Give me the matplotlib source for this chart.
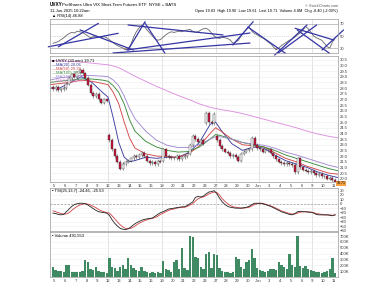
import numpy as np
import matplotlib.pyplot as plt

plt.rcParams['font.family'] = ['Liberation Sans', 'DejaVu Sans']

# trading days shown on the x axis (May 5 .. Jun 11)
day_labels = ['5', '6', '7', '8', '9', '12', '13', '14', '15', '16', '19', '20', '21',
              '22', '23', '27', '28', '29', '30', 'Jun', '3', '4', '5', '6', '9', '10', '11']
week_starts = [5, 10, 15, 19, 24]

# one bar of May 2, four bars a day, one bar of Jun 11
closes = [27.9,
          28.1, 27.8, 27.9, 28.0,  28.4, 28.9, 29.2, 29.0,  29.4, 29.6, 29.3, 28.9,
          28.3, 27.6, 27.3, 27.5,  27.0, 26.7, 27.0, 26.9,  23.4, 22.6, 22.0, 21.5,
          20.9, 21.3, 21.5, 21.6,  21.8, 22.0, 21.9, 22.1,  22.3, 22.0, 21.6, 21.4,
          21.5, 21.3, 21.6, 21.5,  22.6, 22.0, 21.9, 21.8,  21.8, 22.0, 21.7, 21.9,
          22.0, 22.2, 23.0, 23.8,  23.5, 23.2, 23.4, 23.1,  25.8, 25.0, 24.9, 25.7,
          23.4, 22.9, 22.6, 22.4,  22.3, 22.0, 22.1, 21.9,  21.6, 22.2, 22.4, 22.5,
          22.6, 23.6, 23.0, 22.7,  22.6, 22.4, 22.5, 22.6,  22.3, 22.0, 21.7, 21.5,
          21.4, 21.3, 21.4, 21.3,  21.2, 20.6, 21.8, 21.0,  20.8, 20.7, 20.6, 20.7,
          20.5, 20.3, 20.4, 20.2,  20.2, 20.0, 20.1, 19.9,
          19.71]
opens = [28.1,
         27.9, 28.1, 27.8, 27.9,  28.0, 28.4, 28.9, 29.2,  29.0, 29.4, 29.6, 29.3,
         28.9, 28.3, 27.6, 27.3,  27.5, 27.0, 26.7, 27.0,  23.9, 23.4, 22.6, 22.0,
         21.5, 20.9, 21.3, 21.5,  21.6, 21.8, 22.0, 21.9,  22.1, 22.3, 22.0, 21.6,
         21.4, 21.5, 21.3, 21.6,  21.6, 22.6, 22.0, 21.9,  21.8, 21.8, 22.0, 21.7,
         21.9, 22.0, 22.2, 23.0,  23.8, 23.5, 23.2, 23.4,  24.9, 25.8, 25.0, 24.9,
         23.8, 23.4, 22.9, 22.6,  22.4, 22.3, 22.0, 22.1,  21.9, 21.6, 22.2, 22.4,
         22.5, 22.6, 23.6, 23.0,  22.7, 22.6, 22.4, 22.5,  22.6, 22.3, 22.0, 21.7,
         21.5, 21.4, 21.3, 21.4,  21.3, 21.2, 20.6, 21.8,  21.0, 20.8, 20.7, 20.6,
         20.7, 20.5, 20.3, 20.4,  20.2, 20.2, 20.0, 20.1,
         19.9]
volume_k = [170,
            120, 110, 100, 90,  210, 200, 90, 80,  90, 80, 100, 290,
            260, 140, 120, 170,  100, 80, 90, 70,  320, 170, 150, 110,
            170, 200, 130, 320,  200, 150, 120, 110,  170, 100, 80, 60,
            80, 70, 90, 60,  270, 140, 120, 90,  260, 290, 140, 490,
            150, 120, 710, 690,  350, 320, 170, 140,  400, 430, 150, 400,
            380, 150, 100, 80,  90, 70, 80, 350,  300, 170, 140, 260,
            290, 480, 330, 150,  120, 100, 80, 110,  130, 140, 120, 260,
            200, 170, 130, 400,  210, 170, 710, 180,  160, 180, 140, 120,
            110, 80, 90, 70,  80, 100, 130, 320,
            60]
rsi = [38,
       39, 41, 44, 47,  51, 54, 56, 55,  58, 57, 56, 53,
       50, 47, 49, 50,  48, 47, 49, 47,  44, 40, 37, 34,
       32, 30, 27, 29,  36, 48, 57, 63,  68, 66, 60, 55,
       50, 45, 43, 44,  48, 52, 55, 57,  56, 57, 58, 57,
       59, 60, 61, 58,  56, 57, 60, 62,  63, 60, 55, 50,
       47, 46, 48, 47,  46, 43, 38, 40,  43, 50, 56, 62,
       65, 58, 54, 52,  49, 47, 44, 40,  37, 32, 27, 30,
       34, 37, 40, 43,  45, 48, 52, 55,  60, 66, 62, 56,
       50, 47, 45, 43,  38, 32, 30, 40,
       46.88]
tsi = [-21,
       -22, -24, -25, -24,  -18, -12, -6, -2,  0, 1, 1, 0,
       -3, -7, -11, -15,  -18, -19, -20, -21,  -26, -36, -44, -50,
       -55, -57, -58, -56,  -52, -47, -43, -40,  -37, -35, -34, -33,
       -32, -28, -24, -20,  -18, -15, -12, -11,  -10, -9, -8, -7,
       -7, -4, 0, 4,  14, 16, 15, 17,  22, 26, 27, 29,
       22, 12, 4, -2,  -6, -8, -9, -10,  -10, -10, -9, -8,
       -6, -2, 1, 1,  1, 0, -2, -4,  -6, -9, -12, -15,
       -18, -20, -22, -24,  -25, -22, -18, -17,  -18, -18, -19, -19,
       -21, -24, -25, -25,  -25, -25, -26, -27,
       -24.45]
tsi_signal = [-16,
              -18, -20, -22, -23,  -23, -20, -15, -10,  -6, -3, -1, 0,
              -1, -3, -6, -9,  -13, -16, -18, -20,  -21, -27, -34, -41,
              -47, -52, -55, -56,  -55, -52, -48, -44,  -41, -38, -36, -34,
              -33, -31, -28, -24,  -21, -18, -15, -13,  -12, -10, -9, -8,
              -8, -6, -3, 0,  6, 11, 14, 15,  18, 22, 24, 26,
              25, 19, 11, 5,  0, -4, -7, -8,  -9, -10, -10, -9,
              -8, -5, -2, 0,  1, 1, -1, -3,  -5, -7, -10, -13,
              -16, -18, -20, -22,  -23, -23, -21, -19,  -18, -18, -18, -19,
              -20, -22, -23, -24,  -25, -25, -25, -26,
              -25.53]

# moving averages read at these days
ma_days = [-0.4, 0.5, 1.5, 2.5, 3.5, 4.5, 5.0, 5.5, 6.0, 6.5, 7.0, 7.5, 8.5, 9.5, 10.5, 11.5,
           12.5, 13.5, 14.5, 15.0, 15.5, 16.5, 17.5, 18.5, 19.5, 20.5, 21.5, 22.5, 23.5, 24.5,
           25.5, 26.4]
ma20 = [28.0, 28.0, 28.5, 29.0, 28.5, 27.6, 27.2, 25.3, 23.2, 21.9, 21.5, 21.6, 21.9, 21.8, 21.9,
        21.9, 22.3, 23.2, 24.8, 25.0, 24.3, 23.1, 22.5, 22.8, 22.7, 22.1, 21.6, 21.3, 21.0, 20.6,
        20.3, 20.1]
ma50 = [28.3, 28.4, 28.5, 28.7, 28.6, 28.4, 28.3, 27.6, 26.6, 25.0, 23.6, 22.7, 22.2, 22.0, 21.95,
        21.9, 22.2, 22.9, 24.0, 24.5, 24.2, 23.5, 23.0, 22.9, 22.8, 22.3, 21.8, 21.5, 21.1, 20.8,
        20.5, 20.4]
ma100 = [28.5, 28.6, 28.7, 28.8, 28.8, 28.7, 28.6, 28.2, 27.6, 26.6, 25.2, 24.2, 23.3, 22.8, 22.5,
         22.35, 22.4, 22.8, 23.5, 23.9, 23.8, 23.5, 23.2, 23.0, 22.8, 22.5, 22.1, 21.8, 21.5, 21.2,
         20.9, 20.7]
ma150 = [28.7, 28.9, 29.0, 29.1, 29.1, 29.05, 29.0, 28.7, 28.2, 27.3, 26.2, 25.3, 24.2, 23.4, 22.95,
         22.75, 22.75, 23.0, 23.5, 23.7, 23.7, 23.5, 23.2, 23.05, 22.95, 22.7, 22.35, 22.1, 21.8,
         21.5, 21.2, 21.0]
ma500 = [30.4, 30.4, 30.35, 30.3, 30.2, 30.1, 30.05, 29.95, 29.8, 29.55, 29.3, 29.05, 28.6, 28.15,
         27.75, 27.35, 27.0, 26.6, 26.3, 26.2, 26.1, 25.95, 25.75, 25.5, 25.25, 25.0, 24.75, 24.5,
         24.2, 23.95, 23.75, 23.6]
ma_names = ['MA(20) 20.06', 'MA(50) 20.38', 'MA(100) 20.70', 'MA(150) 21.02', 'MA(500) 23.61']
ma_colors = ['#3c3ca0', '#d04848', '#3c8c3c', '#a08ad0', '#dd8ee0']

# trend lines drawn on the RSI panel: (day0, rsi0, day1, rsi1)
rsi_trendlines = [(0.37, 32, 4.1, 71), (-0.56, 32, 5.95, 54.5), (2.4, 60, 7.35, 26.7),
                  (5.46, 21.7, 18.2, 38.3), (6.76, 26.7, 18.2, 55), (6.86, 68.3, 15.7, 51.7),
                  (8.44, 71.2, 10.3, 21.2), (6.86, 26.7, 8.44, 73.8), (16.6, 35, 18.5, 73.8),
                  (18.0, 65, 21.5, 21.2), (20.5, 18.3, 23.5, 68.3), (20.8, 21.2, 24.4, 68.3),
                  (22.4, 62.8, 26.0, 43.3), (22.6, 60, 25.6, 21.2), (24.9, 26.7, 26.9, 60)]

n_days = len(day_labels)
x = [-0.125] + [d + 0.125 + 0.25 * j for d in range(n_days - 1) for j in range(4)] + [n_days - 1 + 0.125]
x = np.array(x)
o = np.array(opens)
c = np.array(closes)

W, H = 388, 291
fig = plt.figure(figsize=(W / 100, H / 100), dpi=100)
fs = 3.0
left, right = 50, 338
xlim = (-0.4, 26.39)


def panel(top, bottom):
    ax = fig.add_axes([left / W, 1 - bottom / H, (right - left) / W, (bottom - top) / H])
    ax.set_xlim(*xlim)
    ax.yaxis.tick_right()
    ax.tick_params(axis='y', labelsize=fs, length=0, pad=1.5, colors='#333333')
    ax.tick_params(axis='x', labelsize=fs, length=0, pad=1.2, colors='#333333')
    ax.set_xticks(range(n_days))
    ax.set_xticklabels([])
    for s in ax.spines.values():
        s.set_linewidth(0.5)
        s.set_color('#999999')
    for d in week_starts:
        ax.axvline(d, color='#d8d8d8', lw=0.5, zorder=0)
    return ax


# header
fig.text(left / W, 1 - 5 / H, 'UVXY', fontsize=3.4, fontweight='bold', va='center')
fig.text((left + 12) / W, 1 - 5 / H, 'ProShares Ultra VIX Short-Term Futures ETF  NYSE + BATS',
         fontsize=3.1, va='center')
fig.text(left / W, 1 - 10.5 / H, '11-Jun-2025 10:22am', fontsize=3.0, va='center')
fig.text(right / W, 1 - 6 / H, '© StockCharts.com', fontsize=2.8, va='center', ha='right', color='#555555')
fig.text(right / W, 1 - 11 / H, 'Open 19.83  High 19.90  Low 19.61  Last 19.71  Volume 4.8M  Chg -0.40 (-2.00%)',
         fontsize=2.8, va='center', ha='right')

# RSI panel
ax_rsi = panel(19, 53)
ax_rsi.set_ylim(21.7, 78.3)
ax_rsi.set_yticks([30, 50, 70])
ax_rsi.axhline(70, color='#aaaaaa', lw=0.5)
ax_rsi.axhline(30, color='#aaaaaa', lw=0.5)
ax_rsi.axhline(50, color='#bbbbbb', lw=0.4, ls=(0, (2, 2)))
ax_rsi.plot(x, rsi, color='#666666', lw=0.6)
r = np.array(rsi)
ax_rsi.fill_between(x, r, 30, where=r < 30, color='#cc6666', lw=0, interpolate=True)
ax_rsi.fill_between(x, r, 70, where=r > 70, color='#6666cc', lw=0, interpolate=True)
for x0, y0, x1, y1 in rsi_trendlines:
    ax_rsi.plot([x0, x1], [y0, y1], color='#3535a5', lw=0.9, clip_on=False, solid_capstyle='round')
fig.text((left + 2) / W, 1 - 16 / H, '▲ RSI(14) 46.88', fontsize=fs, va='center')

# price panel
ax_p = panel(56, 182)
ax_p.set_ylim(19.71, 30.83)
ticks = np.arange(20.0, 30.51, 0.5)
ax_p.set_yticks(ticks)
ax_p.set_yticklabels(['%.1f' % t for t in ticks])
for t in ticks:
    ax_p.axhline(t, color='#ededed', lw=0.4, zorder=0)
for yi, ci in zip([ma20, ma50, ma100, ma150, ma500], ma_colors):
    ax_p.plot(ma_days, yi, color=ci, lw=0.65, zorder=2)
up = c >= o
wick = 0.15
ax_p.vlines(x, np.minimum(o, c) - wick, np.maximum(o, c) + wick, color='#555555', lw=0.4, zorder=3)
ax_p.bar(x[~up], (o - c)[~up], bottom=c[~up], width=0.19, color='#d0103a', edgecolor='#333333',
         linewidth=0.3, zorder=4)
ax_p.bar(x[up], np.maximum(c - o, 0.05)[up], bottom=o[up], width=0.19, color='white',
         edgecolor='#333333', linewidth=0.3, zorder=4)
ax_p.set_xticklabels(day_labels)
ax_p.text(0.995, 0.005, '19.71', transform=ax_p.transAxes, fontsize=2.6, ha='left', va='top',
          bbox=dict(boxstyle='square,pad=0.15', fc='#f5a142', ec='none'), clip_on=False)
leg_y = 0.975
ax_p.text(0.007, leg_y, '■ UVXY (30 min) 19.71', transform=ax_p.transAxes, fontsize=fs, va='top')
for i, (lab, col) in enumerate(zip(ma_names, ma_colors)):
    yy = leg_y - 0.032 * (i + 1)
    ax_p.text(0.007, yy, '—', transform=ax_p.transAxes, fontsize=fs, va='top', color=col)
    ax_p.text(0.022, yy, lab, transform=ax_p.transAxes, fontsize=fs, va='top', color=col)

# TSI panel
ax_t = panel(188, 231)
ax_t.set_ylim(-61, 35)
ax_t.set_yticks(range(-60, 31, 10))
for t in range(-60, 31, 10):
    ax_t.axhline(t, color='#efefef', lw=0.4, zorder=0)
ax_t.axhline(0, color='#999999', lw=0.5, ls=(0, (3, 2)))
ax_t.plot(x, tsi_signal, color='#d04040', lw=0.6)
ax_t.plot(x, tsi, color='#222222', lw=0.6)
ax_t.text(0.007, 0.97, '▪ TSI(25,13,7) -24.45, -25.53', transform=ax_t.transAxes, fontsize=fs, va='top')

# volume panel
ax_v = panel(232, 277)
ax_v.set_ylim(0, 770)
ax_v.set_yticks(range(100, 701, 100))
ax_v.set_yticklabels(['%dK' % v for v in range(100, 701, 100)])
for t in range(100, 701, 100):
    ax_v.axhline(t, color='#efefef', lw=0.4, zorder=0)
ax_v.bar(x, volume_k, width=0.22, color='#3f8a62', lw=0)
ax_v.set_xticklabels(day_labels)
ax_v.text(0.007, 0.97, '▪ Volume 491,553', transform=ax_v.transAxes, fontsize=fs, va='top')

fig.savefig('out.png', dpi=100, facecolor='white')
